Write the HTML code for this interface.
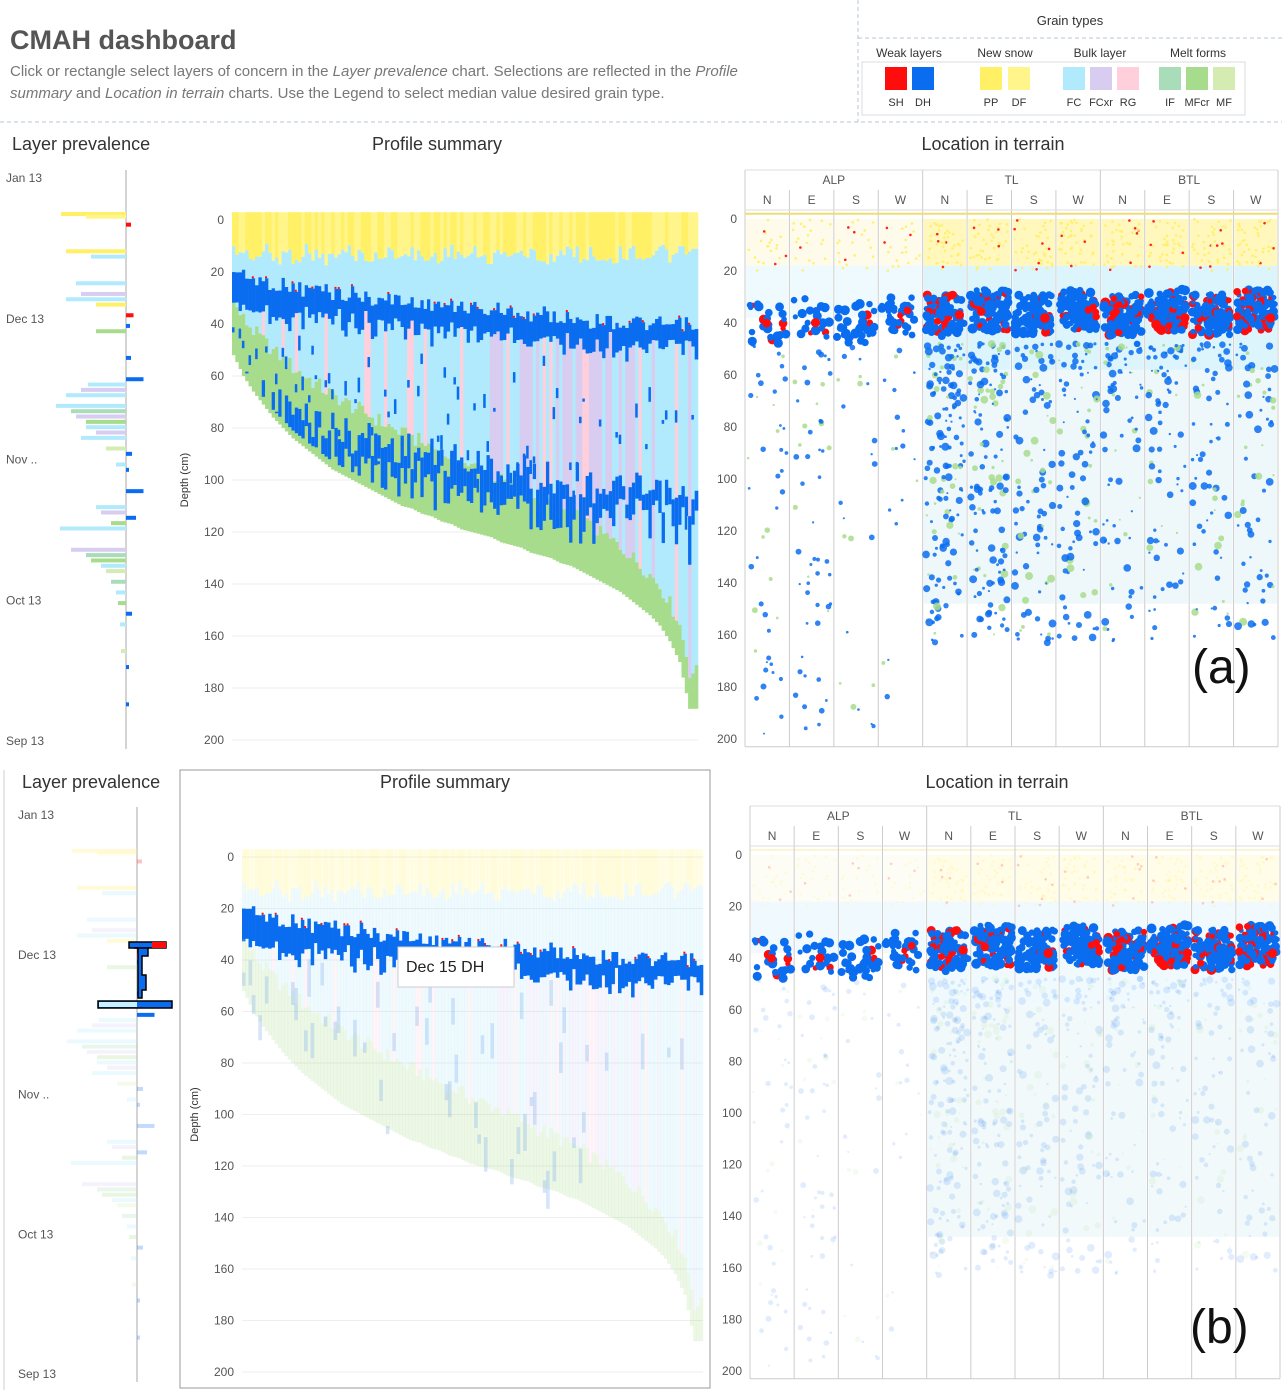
<!DOCTYPE html>
<html><head><meta charset="utf-8"><title>CMAH dashboard</title>
<style>
html,body{margin:0;padding:0;background:#fff;}
body{width:1282px;height:1394px;overflow:hidden;font-family:"Liberation Sans",sans-serif;}
svg text{font-family:"Liberation Sans",sans-serif;}
</style></head>
<body>
<svg id="root" width="1282" height="1394" viewBox="0 0 1282 1394" xmlns="http://www.w3.org/2000/svg">
<g>
<text x="10" y="49" font-size="27" font-weight="bold" fill="#555">CMAH dashboard</text>
<text x="10" y="76" font-size="15" fill="#777">Click or rectangle select layers of concern in the <tspan font-style="italic">Layer prevalence</tspan> chart. Selections are reflected in the <tspan font-style="italic">Profile</tspan></text>
<text x="10" y="98" font-size="15" fill="#777"><tspan font-style="italic">summary</tspan> and <tspan font-style="italic">Location in terrain</tspan> charts. Use the Legend to select median value desired grain type.</text>
<line x1="858" y1="0" x2="858" y2="122" stroke="#b8c4d8" stroke-dasharray="4,3"/>
<line x1="858" y1="38" x2="1282" y2="38" stroke="#b8c4d8" stroke-dasharray="4,3"/>
<line x1="0" y1="122" x2="1282" y2="122" stroke="#b8c4d8" stroke-dasharray="4,3"/>
<text x="1070" y="25" font-size="13" fill="#333" text-anchor="middle">Grain types</text>
<rect x="862" y="62" width="383" height="53" fill="#fff" stroke="#ddd"/>
<g id="legend"></g>
</g>
<g id="panelA"></g>
<g id="panelB"></g>
</svg>
<script>
// ---- data ----
const grainCodes = ["SH","DH","PP","DF","FC","FCxr","RG","IF","MFcr","MF"];
const grainColors = ["#ff0d0d","#0a6df0","#fff066","#fff58a","#b0eafc","#d8cdf0","#ffcfdb","#a9dcb9","#a7dc8c","#d4ebb2"];
const legendGroups = ["Weak layers","New snow","Bulk layer","Melt forms"];
// profile summary: total snow depth per profile column (cm)
const totalDepth = [52,60,66,71,76,80,84,87,90,93,96,98,100,102,104,106,108,110,111,113,114,116,117,119,120,121,122,124,125,126,128,129,130,132,133,135,137,139,141,143,146,149,152,156,162,170,188];
// top of buried DH layer per column (cm)
const dhTop = [20,22,23,24,25,25,26,27,26,27,28,29,28,30,30,31,30,32,31,33,32,33,34,33,34,35,34,36,35,36,37,36,37,38,37,38,39,38,39,40,39,40,41,40,41,40,42];
// thickness of DH band (cm)
const dhThick = [12,11,12,10,11,12,10,9,11,10,9,10,11,9,10,8,9,10,9,8,10,9,8,9,10,8,9,8,9,10,8,9,8,9,8,9,8,9,8,9,8,9,8,9,8,9,8];
// lower DH layer depth per column (cm), panel a
const dhLow = [58,62,66,68,70,72,74,76,77,79,80,82,83,84,85,86,87,88,89,90,91,92,92,93,94,95,95,96,97,97,98,99,99,100,100,101,102,102,103,104,104,105,106,106,107,108,108];
// new snow depth per column (cm)
const newSnow = [12,13,14,12,15,13,14,12,13,15,14,12,13,14,15,13,12,14,13,15,14,13,12,14,13,15,14,13,12,14,13,15,14,13,12,14,13,15,14,13,12,14,13,12,14,13,12];
// layer prevalence bars: date position (0=Jan13 ... 1=Sep13), length(px), grain index
const prevPos = [0.03,0.035,0.05,0.1,0.11,0.16,0.18,0.19,0.2,0.22,0.24,0.25,0.3,0.34,0.35,0.36,0.37,0.39,0.4,0.41,0.42,0.43,0.44,0.45,0.47,0.48,0.5,0.51,0.55,0.58,0.59,0.6,0.61,0.62,0.66,0.67,0.68,0.69,0.7,0.72,0.74,0.76,0.78,0.8,0.85,0.88,0.95];
const prevLen = [65,40,10,60,35,50,45,60,30,15,8,30,10,35,38,45,60,70,55,50,40,40,30,45,20,12,10,6,35,30,25,20,15,66,55,40,35,25,20,15,10,8,12,6,5,4,3];
const prevGrain = [2,3,0,2,4,4,5,4,2,0,1,8,1,1,4,5,4,4,7,5,8,4,5,4,9,1,4,1,1,4,5,1,8,4,5,7,8,4,9,7,4,8,1,4,9,1,1];
// location in terrain: 12 aspect columns (ALP N E S W, TL N E S W, BTL N E S W)
const elevBands = ["ALP","TL","BTL"];
const aspects = ["N","E","S","W"];
const bandDensity = [0.25,0.2,0.35,0.35,1,1,0.9,0.9,1,1,1,1];
const deepDensity = [0.3,0.35,0.15,0.12,1,0.9,0.6,0.6,0.5,0.5,0.45,0.45];
const redShare = [0.25,0.2,0.05,0.15,0.2,0.2,0.12,0.15,0.3,0.3,0.2,0.3];
const depthTicks = [0,20,40,60,80,100,120,140,160,180,200];
const dateLabels = ["Jan 13","Dec 13","Nov ..","Oct 13","Sep 13"];

// ---- helpers ----
const NS="http://www.w3.org/2000/svg";
function mk(parent,tag,attrs,txt){const e=document.createElementNS(NS,tag);for(const k in attrs)e.setAttribute(k,attrs[k]);if(txt!==undefined)e.textContent=txt;parent.appendChild(e);return e;}
function tex(i){const s=Math.sin(i*12.9898+78.233)*43758.5453;return s-Math.floor(s);} // texture only

// legend
const lg=document.getElementById('legend');
const groupX=[909,1005,1100,1198];
legendGroups.forEach((g,i)=>{const t=mk(lg,'text',{x:groupX[i],y:57,'font-size':12,fill:'#333','text-anchor':'middle'},g);

});
const swX=[885,912,980,1008,1063,1090,1117,1159,1186,1213];
grainCodes.forEach((c,i)=>{const r=mk(lg,'rect',{x:swX[i],y:67,width:22,height:23,fill:grainColors[i]});


const t=mk(lg,'text',{x:swX[i]+11,y:106,'font-size':11,fill:'#333','text-anchor':'middle'},c);

});

function buildPanel(g,L){
 const faded=L.faded;
 let t=mk(g,'text',{x:L.lpTitleX,y:L.titleY,'font-size':18,fill:'#333'},'Layer prevalence');
 
 
 t=mk(g,'text',{x:L.psTitleX,y:L.titleY,'font-size':18,fill:'#333','text-anchor':'middle'},'Profile summary');
 
 
 t=mk(g,'text',{x:L.ltTitleX,y:L.titleY,'font-size':18,fill:'#333','text-anchor':'middle'},'Location in terrain');
 
 

 // ---- layer prevalence ----
 const lp=mk(g,'g',{});
 
 
 const dY=p=>L.lpTop+p*(L.lpBot-L.lpTop);
 dateLabels.forEach((d,i)=>{const tt=mk(lp,'text',{x:L.lpLabX,y:dY(i/4)+4,'font-size':12,fill:'#555'},d);
  
  });
 let ax=mk(lp,'line',{x1:L.lpAxis,y1:L.lpTop-8,x2:L.lpAxis,y2:L.lpBot+8,stroke:'#aaa'});
 
 
 prevPos.forEach((p,i)=>{const y=L.lpTop+18+p*(L.lpBot-L.lpTop-30);
  const gi=prevGrain[i];const len=prevLen[i];
  const weak=gi<2;
  const x=weak?L.lpAxis:L.lpAxis-len;
  const w=weak?Math.max(3,len*0.5):len;
  const sel=faded&&(p>0.19&&p<0.37&&weak);
  const b=mk(lp,'rect',{x:x,y:y,width:w,height:4,fill:grainColors[gi],opacity:faded&&!sel?0.25:1});
  
  });
 if(faded){
  const sg=mk(lp,'g',{});
  
  
  const s1=mk(sg,'rect',{x:129,y:942,width:37,height:6,fill:'#0a6df0',stroke:'#000','stroke-width':1.5});
  
  
  const s1r=mk(sg,'rect',{x:152,y:942,width:14,height:6,fill:'#ff0d0d'});
  
  
  const s2=mk(sg,'path',{d:'M134 948 H148 V956 H142 V975 H146 V990 H142 V998 H138 V948 Z',fill:'#0a6df0',stroke:'#000','stroke-width':1.5});
  
  
  const s3=mk(sg,'rect',{x:98,y:1001,width:74,height:7,fill:'#0a6df0',stroke:'#000','stroke-width':1.5});
  
  
  const s3b=mk(sg,'rect',{x:99,y:1002,width:38,height:5,fill:'#c8f0ff'});
  
  
 }

 // ---- profile summary ----
 const ps=mk(g,'g',{});
 
 
 const yS=d=>L.psZero+d*L.psScale;
 depthTicks.forEach(v=>{const tt=mk(ps,'text',{x:L.psX0-8,y:yS(v)+4,'font-size':12,fill:'#555','text-anchor':'end'},v);
  
  
  const gl=mk(ps,'line',{x1:L.psX0,x2:L.psX1,y1:yS(v),y2:yS(v),stroke:'#eee'});
  
  });
 const at=mk(ps,'text',{x:0,y:0,'font-size':11,fill:'#333','text-anchor':'middle',transform:`translate(${L.psX0-44},${yS(100)}) rotate(-90)`},'Depth (cm)');
 
 
 const n=totalDepth.length;const cw=(L.psX1-L.psX0)/n;
 const op=faded?0.22:1;
 const cols=mk(ps,'g',{});
 
 
 for(let i=0;i<n;i++){
  const fr=i/(n-1);
  for(let s=0;s<3;s++){
   const x=L.psX0+i*cw+s*cw/3,w=cw/3+0.3;const k=i*3+s;
   const td=totalDepth[i]+(i<n-1?(totalDepth[i+1]-totalDepth[i])*s/3:0);
   const ns=newSnow[i]+tex(k)*6-3;
   const dt=dhTop[i]+tex(k+7)*6-3;
   const db=dt+dhThick[i]+tex(k+3)*6-2;
   const green=td*(0.32-0.26*fr)+tex(k+11)*6;
   const bulkCol=(fr>0.55&&tex(k+5)>0.6)?grainColors[5]:(tex(k+9)>0.88?grainColors[6]:grainColors[4]);
   const segs=[[-3,ns,tex(k+1)>0.5?grainColors[2]:grainColors[3],op],[ns,dt,grainColors[4],op],[dt,db,grainColors[1],1],[db,td-green,bulkCol,op],[td-green,td,grainColors[8],op]];
   segs.forEach(sg=>{if(sg[1]<=sg[0])return;
    const r=mk(cols,'rect',{x:x,y:yS(sg[0]),width:w,height:(sg[1]-sg[0])*L.psScale,fill:sg[2],opacity:sg[3]});
    
    });
   if(!faded){
    const lo=dhLow[i]+tex(k+13)*14-7;
    if(lo<td-3){const r=mk(cols,'rect',{x:x,y:yS(lo),width:w,height:Math.min((5+tex(k+17)*14),td-3-lo)*L.psScale,fill:grainColors[1]});
     
     }
    if(tex(k+21)>0.45){const dd=dt+dhThick[i]+8+tex(k+23)*(td-dt-30);
     if(dd<td-2){const r=mk(cols,'rect',{x:x,y:yS(dd),width:w*0.7,height:3+tex(k+29)*12,fill:grainColors[1]});
     
     }}
   } else {
    if(tex(k+21)>0.6){const dd=db+tex(k+23)*(td-db);
     const r=mk(cols,'rect',{x:x,y:yS(dd),width:w,height:8+tex(k+29)*30,fill:'#8ab4ee',opacity:0.35});
     
     }
   }
   if(tex(k+31)>0.82){const r=mk(cols,'rect',{x:x,y:yS(dt)-2,width:2,height:2,fill:grainColors[0]});
    
    }
  }
 }
 if(faded){
  const tb=mk(ps,'rect',{x:398,y:947,width:116,height:40,fill:'#fff',stroke:'#ccc'});
  
  
  const tt=mk(ps,'text',{x:406,y:972,'font-size':16,fill:'#222'},'Dec 15 DH');
  
  
 }

 // ---- location in terrain ----
 const lt=mk(g,'g',{});
 
 
 const yT=d=>L.ltZero+d*L.ltScale;
 const colW=(L.ltX1-L.ltX0)/12;
 const hx=mk(lt,'line',{x1:L.ltX0,x2:L.ltX1,y1:L.ltHead,y2:L.ltHead,stroke:'#ddd'});
 
 
 elevBands.forEach((e,i)=>{const tt=mk(lt,'text',{x:L.ltX0+colW*(i*4+2),y:L.ltHead+14,'font-size':12,fill:'#555','text-anchor':'middle'},e);
  
  });
 for(let c=0;c<12;c++){
  const tt=mk(lt,'text',{x:L.ltX0+colW*(c+0.5),y:L.ltHead+34,'font-size':12,fill:'#555','text-anchor':'middle'},aspects[c%4]);
  
  
 }
 for(let c=0;c<=12;c++){
  const l=mk(lt,'line',{x1:L.ltX0+colW*c,x2:L.ltX0+colW*c,y1:c%4==0?L.ltHead:L.ltHead+20,y2:yT(203),stroke:'#ccc'});
  
  
 }
 const hl=mk(lt,'line',{x1:L.ltX0,x2:L.ltX1,y1:L.ltHead+40,y2:L.ltHead+40,stroke:'#ddd'});
 
 
 const bl=mk(lt,'line',{x1:L.ltX0,x2:L.ltX1,y1:yT(203),y2:yT(203),stroke:'#ccc'});
 
 
 depthTicks.forEach(v=>{const tt=mk(lt,'text',{x:L.ltX0-8,y:yT(v)+4,'font-size':12,fill:'#555','text-anchor':'end'},v);
  
  });
 const yl=mk(lt,'line',{x1:L.ltX0,x2:L.ltX1,y1:yT(-2),y2:yT(-2),stroke:'#f0dd70','stroke-width':2,opacity:faded?0.3:1});
 
 
 const dots=mk(lt,'g',{});
 
 
 for(let c=0;c<12;c++){
  const x0=L.ltX0+colW*c;const tl=c>=4;
  const bg1=mk(dots,'rect',{x:x0+1,y:yT(0),width:colW-2,height:18*L.ltScale,fill:tl?'#fff3a0':'#fdf8d8',opacity:faded?0.25:(tl?0.7:0.5)});
  
  
  const bg2=mk(dots,'rect',{x:x0+1,y:yT(18),width:colW-2,height:(tl?40:20)*L.ltScale,fill:'#cdf0fb',opacity:faded?0.3:(tl?0.7:0.35)});
  
  
  if(tl){const bg3=mk(dots,'rect',{x:x0+1,y:yT(58),width:colW-2,height:90*L.ltScale,fill:'#e3f4f8',opacity:faded?0.5:0.6});
   
   }
  const nS=Math.round(40*(tl?1:0.5));
  for(let j=0;j<nS;j++){const k=c*1000+j;
   const d=mk(dots,'circle',{cx:x0+3+tex(k)*(colW-6),cy:yT(tex(k+1)*20),r:1.3,fill:tex(k+2)>0.85?grainColors[0]:grainColors[2],opacity:faded?0.2:0.9});
   
   }
  const nB=Math.round(110*bandDensity[c]);
  for(let j=0;j<nB;j++){const k=c*1000+200+j;
   const dep=(tl?29:32)+tex(k)*16-(c%2)*2;
   const red=tex(k+3)<redShare[c];
   const d=mk(dots,'circle',{cx:x0+3+tex(k+1)*(colW-6),cy:yT(dep),r:2.5+tex(k+2)*2.5,fill:red?grainColors[0]:grainColors[1]});
   
   }
  const nD=Math.round(150*deepDensity[c]);
  for(let j=0;j<nD;j++){const k=c*1000+500+j;
   const dep=48+Math.pow(tex(k),1.4)*(tl?115:150);
   const d=mk(dots,'circle',{cx:x0+3+tex(k+1)*(colW-6),cy:yT(dep),r:1+tex(k+2)*(tl?3:2),fill:tex(k+3)>0.8?'#a8dc8c':grainColors[1],opacity:faded?0.12:0.85});
   
   }
 }
 const lab=mk(g,'text',{x:L.labX,y:L.labY,'font-size':48,fill:'#111'},L.label);
 
 
}

buildPanel(document.getElementById('panelA'),{faded:false,label:'(a)',labX:1192,labY:683,
 titleY:150,lpTitleX:12,psTitleX:437,ltTitleX:993,
 lpTop:178,lpBot:741,lpLabX:6,lpAxis:126,
 psX0:232,psX1:698,psZero:220,psScale:2.6,
 ltX0:745,ltX1:1278,ltHead:170,ltZero:219,ltScale:2.6});

const pb=document.getElementById('panelB');
let fr=mk(pb,'rect',{x:180,y:770,width:530,height:618,fill:'none',stroke:'#999'});


fr=mk(pb,'line',{x1:4,y1:770,x2:4,y2:1390,stroke:'#ccc'});


buildPanel(pb,{faded:true,label:'(b)',labX:1190,labY:1343,
 titleY:788,lpTitleX:22,psTitleX:445,ltTitleX:997,
 lpTop:815,lpBot:1374,lpLabX:18,lpAxis:137,
 psX0:242,psX1:703,psZero:857,psScale:2.575,
 ltX0:750,ltX1:1280,ltHead:806,ltZero:855,ltScale:2.58});
</script>
</body></html>
